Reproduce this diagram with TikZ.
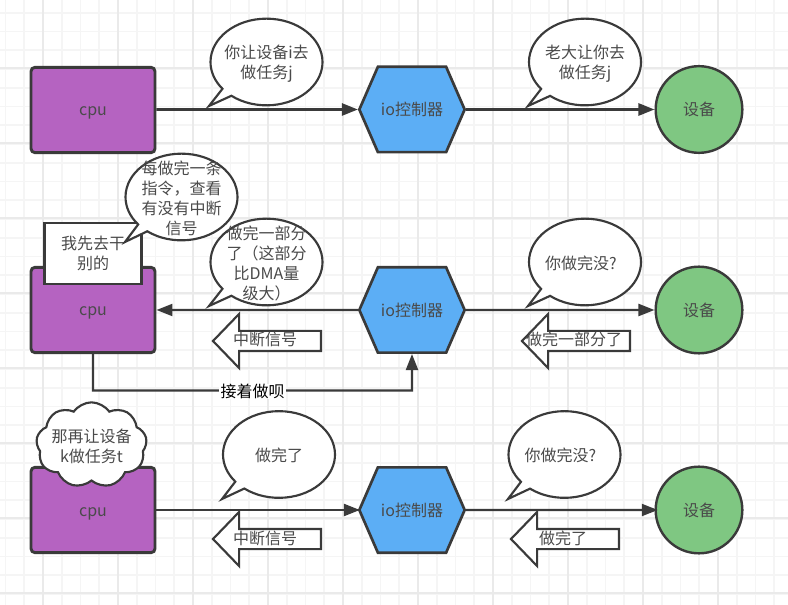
\documentclass[tikz,border=0pt]{standalone}
\usepackage{fontspec}
\setmainfont{Noto Sans CJK SC}
\usetikzlibrary{arrows.meta,shapes.arrows,shapes.callouts,shapes.symbols}
\definecolor{inkgray}{HTML}{3A3A3A}
\definecolor{textgray}{HTML}{4A4A4A}
\definecolor{cpupurple}{HTML}{B563C1}
\definecolor{ioblue}{HTML}{5CAEF5}
\definecolor{devgreen}{HTML}{7FC782}
\definecolor{gridminor}{HTML}{F5F5F5}
\definecolor{gridmajor}{HTML}{EAEAEA}
\newcommand{\tailtext}[1]{\hspace*{-5pt}#1\hspace*{5pt}}
\tikzset{
    every node/.style = {text = textgray, font = \fontsize{12}{15}\selectfont, inner sep = 0pt},
    cpubox/.style = {draw = inkgray, line width = 2.2pt, fill = cpupurple, rounded corners = 3pt, minimum width = 93pt, minimum height = 64pt, text height = 10.5pt, text depth = 1.5pt},
    iohex/.style = {draw = inkgray, line width = 2pt, fill = ioblue, signal, signal to = east and west, signal pointer angle = 133, minimum width = 79pt, minimum height = 64pt},
    devcircle/.style = {draw = inkgray, line width = 1.8pt, fill = devgreen, circle, minimum size = 65pt},
    saybubble/.style = {draw = inkgray, line width = 1.6pt, fill = white, ellipse callout, minimum width = 84pt, minimum height = 65pt, callout pointer arc = 13},
    saytext/.style = {align = center, yshift = -1pt},
    backarrow/.style = {draw = inkgray, line width = 1.6pt, fill = white, single arrow, shape border rotate = 180, anchor = tip, minimum height = 81pt, minimum width = 39pt, single arrow head extend = 12.75pt, single arrow tip angle = 92, text height = 10.5pt, text depth = 3pt},
    link/.style = {draw = inkgray, line width = 1.6pt, -{Triangle[length = 12pt, width = 9pt]}}
}
\begin{document}
\begin{tikzpicture}[x = 0.75pt, y = -0.75pt]
    \useasboundingbox (0,0) rectangle (788,605);
    \fill[white] (0,0) rectangle (788,605);

    \foreach \k in {0,...,42} {
        \draw[gridminor, line width = 1.2pt] ({5.5 + 18.75*\k},0) -- ({5.5 + 18.75*\k},605);
        \draw[gridminor, line width = 1.2pt] (0,{12.75 + 18.75*\k}) -- (788,{12.75 + 18.75*\k});
    }
    \foreach \k in {0,...,10} {
        \draw[gridmajor, line width = 1pt] ({43 + 75*\k},0) -- ({43 + 75*\k},605);
    }
    \foreach \k in {0,...,7} {
        \draw[gridmajor, line width = 1pt] (0,{68 + 75*\k}) -- (788,{68 + 75*\k});
    }

    \node[cpubox] (cpua) at (93,110) {cpu};
    \node[iohex] (ioa) at (412,109.5) {io控制器};
    \node[devcircle] (deva) at (699,109.5) {设备};

    \node[cpubox] (cpub) at (93,310) {cpu};
    \node[iohex] (iob) at (412,310) {io控制器};
    \node[devcircle] (devb) at (699,310) {设备};

    \node[cpubox] (cpuc) at (93,510) {cpu};
    \node[iohex] (ioc) at (412,510) {io控制器};
    \node[devcircle] (devc) at (699,510) {设备};

    \draw[link, line width = 2pt] (cpua.east |- ioa) -- (ioa);
    \draw[link, line width = 2pt] (ioa) -- (deva);
    \draw[link] (iob) -- (cpub);
    \draw[link] (iob) -- (devb);
    \draw[link, shorten > = -1.5pt] (cpuc) -- (ioc);
    \draw[link, shorten > = -2.5pt] (ioc) -- (devc);

    \coordinate (lane) at (0,390.5);
    \draw[link] (cpub) -- (cpub |- lane) -- node[fill = white, text = black, inner xsep = 1pt, yshift = -1pt] (goon) {接着做呗} (iob |- lane) -- (iob);

    \node[saybubble, callout absolute pointer = {(209,106)}, label = {[saytext]center:{你让设备i去\\做任务j}}] (saya) at (266.5,62) {};
    \node[saybubble, callout absolute pointer = {(528,106)}, label = {[saytext]center:{老大让你去\\做任务j}}] (sayb) at (585,62) {};

    \node[draw = inkgray, line width = 1.8pt, fill = white, minimum width = 73pt, minimum height = 45.5pt, align = center] (later) at (93,253.5) {我先去干\\别的};
    \node[saybubble, callout absolute pointer = {(125,242)}, label = {[saytext]center:{每做完一条\\指令，查看\\有没有中断\\信号}}] (sayc) at (181.5,197) {};
    \node[saybubble, callout absolute pointer = {(209,306)}, label = {[saytext]center:{做完一部分\\了（这部分\\比DMA量\\级大）}}] (sayd) at (266.5,262) {};
    \node[saybubble, callout absolute pointer = {(528,306)}, label = {[saytext, xshift = -3pt]center:{你做完没?}}] (saye) at (585,262) {};

    \node[backarrow] (inta) at (211.5,341) {\tailtext{中断信号}};
    \node[backarrow] (partb) at (520.5,341) {\tailtext{做完一部分了}};

    \node[draw = inkgray, line width = 1.6pt, fill = white, cloud, cloud puffs = 9, cloud puff arc = 110, cloud ignores aspect, minimum width = 83pt, minimum height = 64pt, label = {[saytext]center:{那再让设备\\k做任务t}}] (again) at (91.5,445) {};

    \node[saybubble, callout absolute pointer = {(222,499)}, label = {[saytext]center:{做完了}}] (sayf) at (279,454.5) {};
    \node[saybubble, callout absolute pointer = {(508,499)}, label = {[saytext, xshift = -3pt]center:{你做完没?}}] (sayg) at (564.5,454.5) {};

    \node[backarrow] (intc) at (211.5,539) {\tailtext{中断信号}};
    \node[backarrow] (partc) at (509.5,539) {\tailtext{做完了}};
\end{tikzpicture}
\end{document}
